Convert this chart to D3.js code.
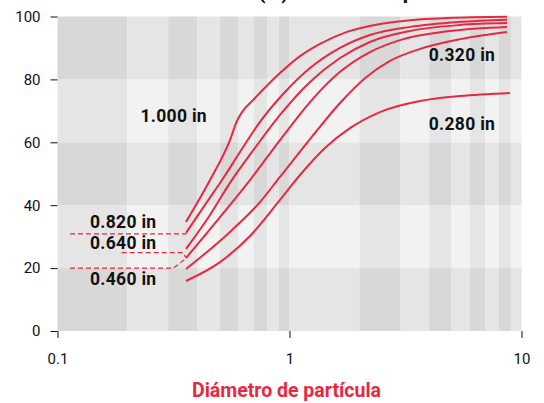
<!DOCTYPE html>
<html><head><meta charset="utf-8">
<script src="https://cdn.jsdelivr.net/npm/d3@7/dist/d3.min.js"></script>
<style>body{margin:0;background:#fff}svg{display:block}text{font-family:Roboto,"Noto Sans",sans-serif}</style>
</head><body><svg id="c" width="544" height="403"></svg>
<script>
// ---- data (particle size, % passing) ----
const xTickLabels = ["0.1", "1", "10"];
const xTickValues = [0.1, 1, 10];
const yTickValues = [0, 20, 40, 60, 80, 100];
const seriesNames = ["1.000 in", "0.820 in", "0.640 in", "0.460 in", "0.320 in", "0.280 in"];
const curveA = [[0.358,34.7],[0.4073,41.7],[0.4543,48.0],[0.554,60.7],[0.5938,66.8],[0.6242,69.6],[0.6961,73.4],[0.91,82.0],[1.11,87.4],[1.354,91.3],[1.77,95.1],[2.455,97.6],[3.407,98.9],[4.774,99.5],[8.66,99.9]];
const curveB = [[0.358,31.2],[0.4323,40.1],[0.5119,48.0],[0.6118,56.9],[0.7462,66.5],[0.9564,76.0],[1.226,83.6],[1.651,90.0],[2.223,94.1],[3.307,96.7],[5.431,98.3],[8.66,99.0]];
const curveC = [[0.358,26.1],[0.4543,36.9],[0.554,47.1],[0.71,58.2],[0.91,68.7],[1.226,79.2],[1.651,86.8],[2.223,91.9],[3.307,95.4],[5.431,97.3],[8.66,97.9]];
const curveD = [[0.358,23.2],[0.5018,36.2],[0.6756,48.0],[0.91,60.7],[1.226,72.8],[1.651,82.4],[2.223,88.7],[2.995,92.5],[4.918,95.4],[8.66,96.7]];
const curveE = [[0.358,19.7],[0.554,31.5],[0.7462,41.0],[0.91,49.0],[1.226,61.0],[1.651,72.5],[2.115,80.4],[2.712,85.9],[3.652,89.7],[5.431,92.8],[8.66,95.1]];
const curveF = [[0.358,15.9],[0.5018,21.9],[0.6756,30.2],[0.91,41.7],[1.11,49.6],[1.422,58.2],[1.823,64.5],[2.455,69.6],[3.652,73.1],[5.431,74.7],[8.92,75.7]];
const dashLines = [
  [[0.1132,30.9],[0.360,30.9]],
  [[0.189,24.9],[0.348,24.9],[0.357,23.4]],
  [[0.1132,20.0],[0.316,20.0],[0.357,23.0]]
];
// label anchors in data space
const labelPos = [[0.317,68.5],[0.192,34.6],[0.192,27.9],[0.192,16.4],[5.54,87.8],[5.54,65.7]];
const labelTexts = ["1.000 in","0.820 in","0.640 in","0.460 in","0.320 in","0.280 in"];

const RED = "#e8283f";
const svg = d3.select("#c");
const x = d3.scaleLog().domain([0.1, 10]).range([57.5, 521.5]);
const y = d3.scaleLinear().domain([0, 100]).range([331, 16.5]);

// background checker bands
const xEdges = x.ticks();
const yEdges = y.ticks(5);
const bg = svg.append("g");
for (let i = 0; i < xEdges.length - 1; i++) {
  for (let j = 0; j < yEdges.length - 1; j++) {
    const dark = (i % 2 === 0 ? 1 : 0) + (j % 2 === 0 ? 1 : 0);
    const c = 242 - 13 * dark;
    bg.append("rect")
      .attr("x", x(xEdges[i])).attr("width", x(xEdges[i+1]) - x(xEdges[i]))
      .attr("y", y(yEdges[j+1])).attr("height", y(yEdges[j]) - y(yEdges[j+1]))
      .attr("fill", `rgb(${c},${c},${c})`);
  }
}

// title (clipped at top, as in the reference)
svg.append("text").attr("x", 118).attr("y", -1)
  .attr("font-size", 21).attr("font-weight", 700).attr("fill", "#111")
  .text("Granulometría (%) acumulada por tamaño");

// axes
const yAxis = d3.axisLeft(y).tickValues(yTickValues).tickSize(7).tickPadding(10);
const gy = svg.append("g").attr("transform", `translate(${x(0.1)},0)`).call(yAxis);
const xAxis = d3.axisBottom(x).tickValues(xTickValues).tickFormat((d,i)=>xTickLabels[i]).tickSize(7).tickPadding(15);
const gx = svg.append("g").attr("transform", `translate(0,${y(0)})`).call(xAxis);
[gx, gy].forEach(g => {
  g.select(".domain").remove();
  g.selectAll("line").attr("stroke", "#111");
  g.selectAll("text").attr("font-size", 15).attr("fill", "#111").attr("font-family", "Roboto");
});

svg.append("text").attr("x", (x(0.1)+x(10))/2 - 3).attr("y", 397)
  .attr("text-anchor", "middle").attr("font-size", 19.5).attr("font-weight", 700)
  .attr("fill", RED).text("Diámetro de partícula");

// dashed guide lines
const line = d3.line().x(d => x(d[0])).y(d => y(d[1]));
svg.append("g").selectAll("path").data(dashLines).join("path")
  .attr("d", line).attr("fill", "none").attr("stroke", RED)
  .attr("stroke-width", 1.2).attr("stroke-dasharray", "5,3");

// curves
const curves = [curveA, curveB, curveC, curveD, curveE, curveF];
const smooth = d3.line().x(d => x(d[0])).y(d => y(d[1])).curve(d3.curveMonotoneX);
svg.append("g").selectAll("path").data(curves).join("path")
  .attr("d", smooth).attr("fill", "none").attr("stroke", RED).attr("stroke-width", 2);

// labels
svg.append("g").selectAll("text").data(labelTexts).join("text")
  .attr("x", (d,i) => x(labelPos[i][0])).attr("y", (d,i) => y(labelPos[i][1]))
  .attr("text-anchor", "middle").attr("dominant-baseline", "central")
  .attr("font-size", 17.5).attr("font-weight", 700).attr("letter-spacing", 0.3)
  .attr("fill", "#111").text(d => d);
</script></body></html>
